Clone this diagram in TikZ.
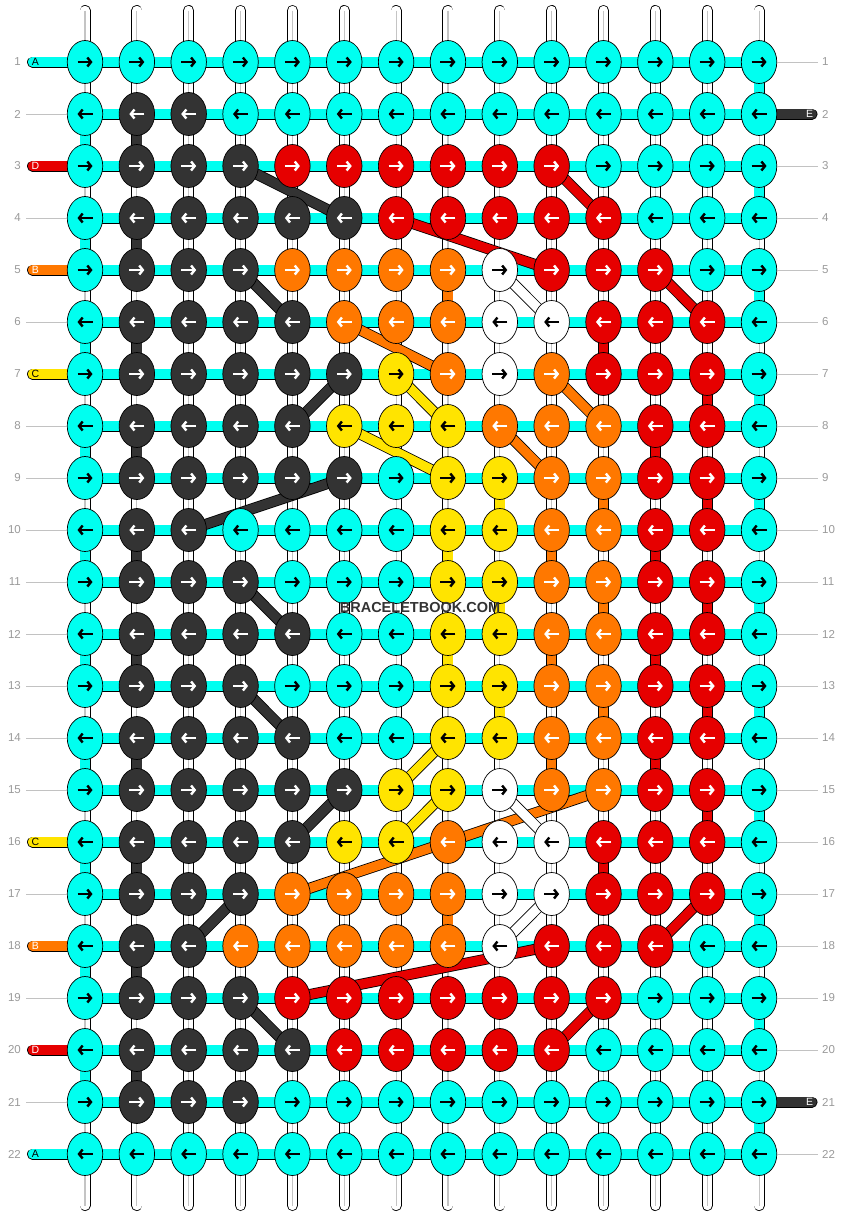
\documentclass[tikz,border=0pt]{standalone}
\usepackage{fontspec}
\setmainfont{Liberation Sans}
\usetikzlibrary{shapes.geometric, arrows.meta, positioning}

\definecolor{cC}{HTML}{00FFF0}
\definecolor{cK}{HTML}{333333}
\definecolor{cR}{HTML}{E60000}
\definecolor{cO}{HTML}{FF7800}
\definecolor{cY}{HTML}{FFE400}
\definecolor{cW}{HTML}{FFFFFF}
\colorlet{aC}{black}
\colorlet{aK}{white}
\colorlet{aR}{white}
\colorlet{aO}{white}
\colorlet{aY}{black}
\colorlet{aW}{black}
\definecolor{numgray}{HTML}{9A9A9A}
\definecolor{warpgray}{HTML}{C4C4C4}

\begin{document}
\begin{tikzpicture}[x=1pt, y=-1pt,
    knot/.style={ellipse, draw=black, line width=0.7pt, minimum width=35.5pt,
                 minimum height=43pt, inner sep=0pt},
    knotarrow/.style={line width=2.4pt, -{Straight Barb[length=3.6pt, width=9pt]}},
    warp/.style={line width=0.8pt, draw=black, double=white, double distance=9.4pt},
    warpline/.style={line width=1.1pt, draw=warpgray},
    strand/.style={line width=0.8pt, draw=black, double=#1, double distance=9.4pt},
    rownum/.style={font=\fontsize{11.5}{12}\selectfont, text=numgray, inner sep=0pt},
    sidetag/.style={font=\fontsize{10.5}{10.5}\selectfont, inner sep=0pt},
    tick/.style={draw=numgray!60, line width=0.8pt}
  ]
    \useasboundingbox (0,0) rectangle (844,1216);
    \fill[white] (0,0) rectangle (844,1216);

    % grid points
    \foreach \rw in {1,...,22}
      \foreach \cl in {1,...,14}
        \coordinate (p-\rw-\cl) at ({85+(\cl-1)*51.85}, {62+(\rw-1)*52});
    \foreach \cl in {1,...,14} {
      \coordinate (top-\cl) at ({85+(\cl-1)*51.85}, 10.5);
      \coordinate (bot-\cl) at ({85+(\cl-1)*51.85}, 1205.5);
    }

    % warp threads
    \foreach \cl in {1,...,14} {
      \draw[warp, line cap=round] (top-\cl) -- (p-1-\cl);
      \draw[warp, line cap=round] (p-22-\cl) -- (bot-\cl);
      \draw[warpline] (top-\cl) -- (p-1-\cl) (p-22-\cl) -- (bot-\cl);
    }
    \foreach \rw [evaluate=\rw as \nx using int(\rw+1)] in {1,...,21}
      \foreach \cl in {1,...,14} {
        \draw[warp] (p-\rw-\cl) -- (p-\nx-\cl);
        \draw[warpline] (p-\rw-\cl) -- (p-\nx-\cl);
      }

    % turning strands
    \foreach \rw [evaluate=\rw as \nx using int(\rw+1)] in {1,3,...,21}
      \draw[strand=cC] (p-\rw-14) -- (p-\nx-14);
    \foreach \rw [evaluate=\rw as \nx using int(\rw+1)] in {2,4,...,20} {
      \draw[strand=cC] (p-\rw-1) -- (p-\nx-1);
      \draw[strand=cK] (p-\rw-2) -- (p-\nx-2);
    }
    \foreach \rw/\cl/\cc [evaluate=\rw as \nx using int(\rw+1)] in
      {5/8/cO, 9/11/cO, 10/10/cO, 11/11/cO, 12/10/cO, 13/11/cO, 14/10/cO, 17/8/cO,
       6/11/cR, 7/13/cR, 8/12/cR, 9/13/cR, 10/12/cR, 11/13/cR, 12/12/cR, 13/13/cR,
       14/12/cR, 15/13/cR, 16/11/cR,
       9/9/cY, 10/8/cY, 11/9/cY, 12/8/cY, 13/9/cY}
      \draw[strand=\cc] (p-\rw-\cl) -- (p-\nx-\cl);

    % weft rows
    \foreach \rw in {1,...,22}
      \draw[strand=cC] (p-\rw-1) -- (p-\rw-14);

    % diagonal strands
    \foreach \rw/\ca/\cb/\cc [evaluate=\rw as \nx using int(\rw+1)] in
      {3/4/6/cK, 5/4/5/cK, 7/6/5/cK, 9/6/3/cK, 11/4/5/cK, 13/4/5/cK, 15/6/5/cK,
       17/4/3/cK, 19/4/5/cK,
       6/6/8/cO, 7/10/11/cO, 8/9/10/cO, 15/11/8/cO, 16/8/5/cO,
       3/10/11/cR, 4/7/10/cR, 5/12/13/cR, 17/13/12/cR, 18/10/5/cR, 19/11/10/cR,
       7/7/8/cY, 8/6/8/cY, 14/8/7/cY, 15/8/7/cY,
       5/9/10/cW, 15/9/10/cW, 17/10/9/cW}
      \draw[strand=\cc] (p-\rw-\ca) -- (p-\nx-\cb);

    % loose ends
    \foreach \rw/\lab/\fc/\tc in {1/A/cC/black, 3/D/cR/white, 5/B/cO/white, 7/C/cY/black,
                                  16/C/cY/black, 18/B/cO/white, 20/D/cR/white, 22/A/cC/black} {
      \coordinate (in-\rw) at (32.5, {62+(\rw-1)*52});
      \draw[strand=\fc, line cap=round] (in-\rw) -- (p-\rw-1);
      \node[sidetag, text=\tc] (lab-\rw) at (35.5, {62+(\rw-1)*52}) {\lab};
    }
    \foreach \rw in {2,21} {
      \coordinate (out-\rw) at (812, {62+(\rw-1)*52});
      \draw[strand=cK, line cap=round] (p-\rw-14) -- (out-\rw);
      \node[sidetag, text=white] (lab-\rw) at (809.5, {62+(\rw-1)*52}) {E};
    }

    % knots
    \foreach \line [count=\rw] in {
      {C,C,C,C,C,C,C,C,C,C,C,C,C,C},
      {C,K,K,C,C,C,C,C,C,C,C,C,C,C},
      {C,K,K,K,R,R,R,R,R,R,C,C,C,C},
      {C,K,K,K,K,K,R,R,R,R,R,C,C,C},
      {C,K,K,K,O,O,O,O,W,R,R,R,C,C},
      {C,K,K,K,K,O,O,O,W,W,R,R,R,C},
      {C,K,K,K,K,K,Y,O,W,O,R,R,R,C},
      {C,K,K,K,K,Y,Y,Y,O,O,O,R,R,C},
      {C,K,K,K,K,K,C,Y,Y,O,O,R,R,C},
      {C,K,K,C,C,C,C,Y,Y,O,O,R,R,C},
      {C,K,K,K,C,C,C,Y,Y,O,O,R,R,C},
      {C,K,K,K,K,C,C,Y,Y,O,O,R,R,C},
      {C,K,K,K,C,C,C,Y,Y,O,O,R,R,C},
      {C,K,K,K,K,C,C,Y,Y,O,O,R,R,C},
      {C,K,K,K,K,K,Y,Y,W,O,O,R,R,C},
      {C,K,K,K,K,Y,Y,O,W,W,R,R,R,C},
      {C,K,K,K,O,O,O,O,W,W,R,R,R,C},
      {C,K,K,O,O,O,O,O,W,R,R,R,C,C},
      {C,K,K,K,R,R,R,R,R,R,R,C,C,C},
      {C,K,K,K,K,R,R,R,R,R,C,C,C,C},
      {C,K,K,K,C,C,C,C,C,C,C,C,C,C},
      {C,C,C,C,C,C,C,C,C,C,C,C,C,C}}
      \foreach \kc [count=\cl] in \line {
        \node[knot, fill=c\kc] (k-\rw-\cl) at (p-\rw-\cl) {};
        \ifodd\rw
          \draw[knotarrow, draw=a\kc] (k-\rw-\cl.center) +(-7.5,0) -- +(7.5,0);
        \else
          \draw[knotarrow, draw=a\kc] (k-\rw-\cl.center) +(7.5,0) -- +(-7.5,0);
        \fi
      }

    % row numbers
    \foreach \rw in {1,...,22} {
      \node[rownum, anchor=east] (nl-\rw) at (21, {62+(\rw-1)*52}) {\rw};
      \node[rownum, anchor=west] (nr-\rw) at (822, {62+(\rw-1)*52}) {\rw};
    }
    \foreach \rw in {2,4,6,8,9,10,11,12,13,14,15,17,19,21} {
      \coordinate (lt-\rw) at (26, {62+(\rw-1)*52});
      \draw[tick] (lt-\rw) -- (k-\rw-1.west);
    }
    \foreach \rw in {1,3,4,5,6,7,8,9,10,11,12,13,14,15,16,17,18,19,20,22} {
      \coordinate (rt-\rw) at (818, {62+(\rw-1)*52});
      \draw[tick] (k-\rw-14.east) -- (rt-\rw);
    }

    \node[font=\bfseries\fontsize{14.5}{14.5}\selectfont, text=cK] (mark) at (420,607) {BRACELETBOOK.COM};
  \end{tikzpicture}
\end{document}
